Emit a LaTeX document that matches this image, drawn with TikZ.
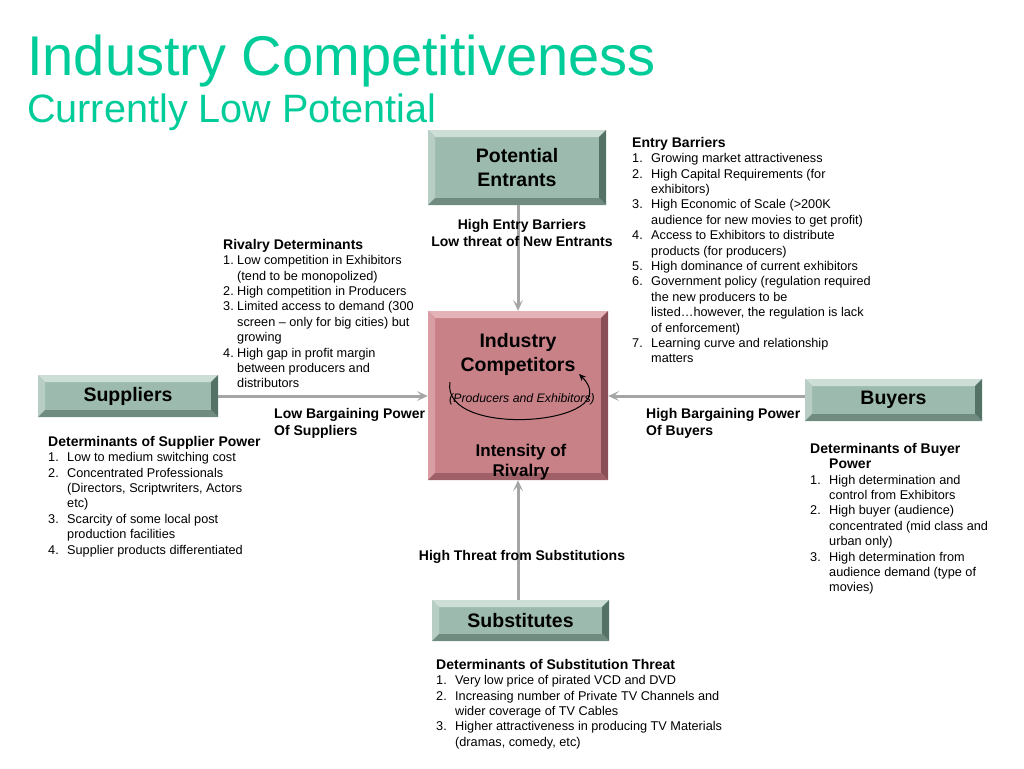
\documentclass[tikz,border=0pt]{standalone}
\usepackage{fontspec}
\setmainfont{Liberation Sans}
\usetikzlibrary{arrows.meta}

\definecolor{TitleGreen}{RGB}{0,204,153}
\definecolor{BoxGreen}{RGB}{156,187,174}
\definecolor{BoxGreenLight}{RGB}{204,222,214}
\definecolor{BoxGreenSide}{RGB}{184,206,196}
\definecolor{BoxGreenDark}{RGB}{84,114,102}
\definecolor{BoxGreenLow}{RGB}{112,140,128}
\definecolor{BoxPink}{RGB}{201,129,136}
\definecolor{BoxPinkLight}{RGB}{228,178,183}
\definecolor{BoxPinkSide}{RGB}{216,158,164}
\definecolor{BoxPinkDark}{RGB}{138,78,86}
\definecolor{BoxPinkLow}{RGB}{160,96,104}
\definecolor{FlowGray}{RGB}{165,165,165}

\newcommand{\bvl}{7pt}
\newcommand{\litem}[3][19pt]{\makebox[#1][l]{#2}#3}
\newcommand{\lcont}[2][19pt]{\hspace*{#1}#2}
\newcommand{\lhead}[1]{{\bfseries\fontsize{14}{15.4}\selectfont #1}}

\tikzset{
  bevel/.style n args={5}{fill=#1, inner sep=0pt, align=center,
    font=\bfseries\fontsize{19.5}{24}\selectfont,
    path picture={
      \fill[#2] (path picture bounding box.north west) -- (path picture bounding box.north east) -- ([shift={(-\bvl,-\bvl)}]path picture bounding box.north east) -- ([shift={(\bvl,-\bvl)}]path picture bounding box.north west) -- cycle;
      \fill[#3] (path picture bounding box.north west) -- ([shift={(\bvl,-\bvl)}]path picture bounding box.north west) -- ([shift={(\bvl,\bvl)}]path picture bounding box.south west) -- (path picture bounding box.south west) -- cycle;
      \fill[#4] (path picture bounding box.north east) -- (path picture bounding box.south east) -- ([shift={(-\bvl,\bvl)}]path picture bounding box.south east) -- ([shift={(-\bvl,-\bvl)}]path picture bounding box.north east) -- cycle;
      \fill[#5] (path picture bounding box.south west) -- ([shift={(\bvl,\bvl)}]path picture bounding box.south west) -- ([shift={(-\bvl,\bvl)}]path picture bounding box.south east) -- (path picture bounding box.south east) -- cycle;
    }},
  greenbox/.style={bevel={BoxGreen}{BoxGreenLight}{BoxGreenSide}{BoxGreenDark}{BoxGreenLow}},
  pinkbox/.style={bevel={BoxPink}{BoxPinkLight}{BoxPinkSide}{BoxPinkDark}{BoxPinkLow}},
  flow/.style={draw=FlowGray, line width=3pt, -{Stealth[length=11pt,width=10pt,inset=5pt]}},
  listtext/.style={anchor=north west, inner sep=0pt, align=left, font=\fontsize{12.7}{15.4}\selectfont},
  boldlabel/.style={inner sep=0pt, font=\bfseries\fontsize{14}{17}\selectfont},
}

\begin{document}
\begin{tikzpicture}[x=1pt,y=-1pt]
\fill[white] (0,0) rectangle (1024,768);
\useasboundingbox (0,0) rectangle (1024,768);
\node[anchor=base west, inner sep=0pt, text=TitleGreen, font=\fontsize{56}{60}\selectfont] (title) at (27,75) {Industry Competitiveness};
\node[anchor=base west, inner sep=0pt, text=TitleGreen, font=\fontsize{39.6}{44}\selectfont] (subtitle) at (27,122) {Currently Low Potential};

\node[greenbox, minimum width=178pt, minimum height=75pt] (entrants) at (517,167.5) {Potential\\Entrants};
\node[pinkbox, minimum width=180pt, minimum height=169pt] (comp) at (518,395.5) {};
\node[greenbox, minimum width=180pt, minimum height=42pt] (sup) at (128,396) {Suppliers};
\node[greenbox, minimum width=177pt, minimum height=42pt] (buy) at (893.5,400) {Buyers};
\node[greenbox, minimum width=177pt, minimum height=41pt] (subst) at (520.5,620.5) {Substitutes};

\node[inner sep=0pt, align=center, font=\bfseries\fontsize{19.5}{24}\selectfont] (compname) at (518,354) {Industry\\Competitors};
\node[inner sep=0pt, font=\itshape\fontsize{12.3}{14}\selectfont] (compsub) at (522,399) {(Producers and Exhibitors)};
\node[inner sep=0pt, align=center, font=\bfseries\fontsize{17}{20}\selectfont] (rivalry) at (521,462) {Intensity of\\Rivalry};
\coordinate (loopstart) at (450,382);
\coordinate (loopend) at (579,374);
\draw[line width=1pt, -{Stealth[length=7pt,width=6pt]}] (loopstart) .. controls (440,440) and (630,425) .. (loopend);

\draw[flow] (entrants.south -| comp) -- (comp.north);
\draw[flow] (sup.east) -- (sup.east -| comp.west);
\draw[flow] (buy.west |- sup.east) -- (comp.east |- sup.east);
\draw[flow] (subst.north -| comp) -- (comp.south);

\node[boldlabel, align=center] (entrylbl) at (522,232.5) {High Entry Barriers\\Low threat of New Entrants};
\node[boldlabel, align=left, anchor=west] (suplbl) at (274,423.5) {Low Bargaining Power\\Of Suppliers};
\node[boldlabel, align=left, anchor=west] (buylbl) at (646,423.5) {High Bargaining Power\\Of Buyers};
\node[boldlabel] (sublbl) at (522,557) {High Threat from Substitutions};

\node[listtext] (entrylist) at (632,137) {\lhead{Entry Barriers}\\
\litem{1.}{Growing market attractiveness}\\
\litem{2.}{High Capital Requirements (for}\\
\lcont{exhibitors)}\\
\litem{3.}{High Economic of Scale (>200K}\\
\lcont{audience for new movies to get profit)}\\
\litem{4.}{Access to Exhibitors to distribute}\\
\lcont{products (for producers)}\\
\litem{5.}{High dominance of current exhibitors}\\
\litem{6.}{Government policy (regulation required}\\
\lcont{the new producers to be}\\
\lcont{listed…however, the regulation is lack}\\
\lcont{of enforcement)}\\
\litem{7.}{Learning curve and relationship}\\
\lcont{matters}};

\node[listtext] (rivallist) at (223,239) {\lhead{Rivalry Determinants}\\
\litem[14pt]{1.}{Low competition in Exhibitors}\\
\lcont[14pt]{(tend to be monopolized)}\\
\litem[14pt]{2.}{High competition in Producers}\\
\litem[14pt]{3.}{Limited access to demand (300}\\
\lcont[14pt]{screen – only for big cities) but}\\
\lcont[14pt]{growing}\\
\litem[14pt]{4.}{High gap in profit margin}\\
\lcont[14pt]{between producers and}\\
\lcont[14pt]{distributors}};

\node[listtext] (suplist) at (48,436) {\lhead{Determinants of Supplier Power}\\
\litem{1.}{Low to medium switching cost}\\
\litem{2.}{Concentrated Professionals}\\
\lcont{(Directors, Scriptwriters, Actors}\\
\lcont{etc)}\\
\litem{3.}{Scarcity of some local post}\\
\lcont{production facilities}\\
\litem{4.}{Supplier products differentiated}};

\node[listtext] (buylist) at (810,443) {\lhead{Determinants of Buyer}\\
\lcont{\lhead{Power}}\\
\litem{1.}{High determination and}\\
\lcont{control from Exhibitors}\\
\litem{2.}{High buyer (audience)}\\
\lcont{concentrated (mid class and}\\
\lcont{urban only)}\\
\litem{3.}{High determination from}\\
\lcont{audience demand (type of}\\
\lcont{movies)}};

\node[listtext] (sublist) at (436,659) {\lhead{Determinants of Substitution Threat}\\
\litem{1.}{Very low price of pirated VCD and DVD}\\
\litem{2.}{Increasing number of Private TV Channels and}\\
\lcont{wider coverage of TV Cables}\\
\litem{3.}{Higher attractiveness in producing TV Materials}\\
\lcont{(dramas, comedy, etc)}};
\end{tikzpicture}
\end{document}
